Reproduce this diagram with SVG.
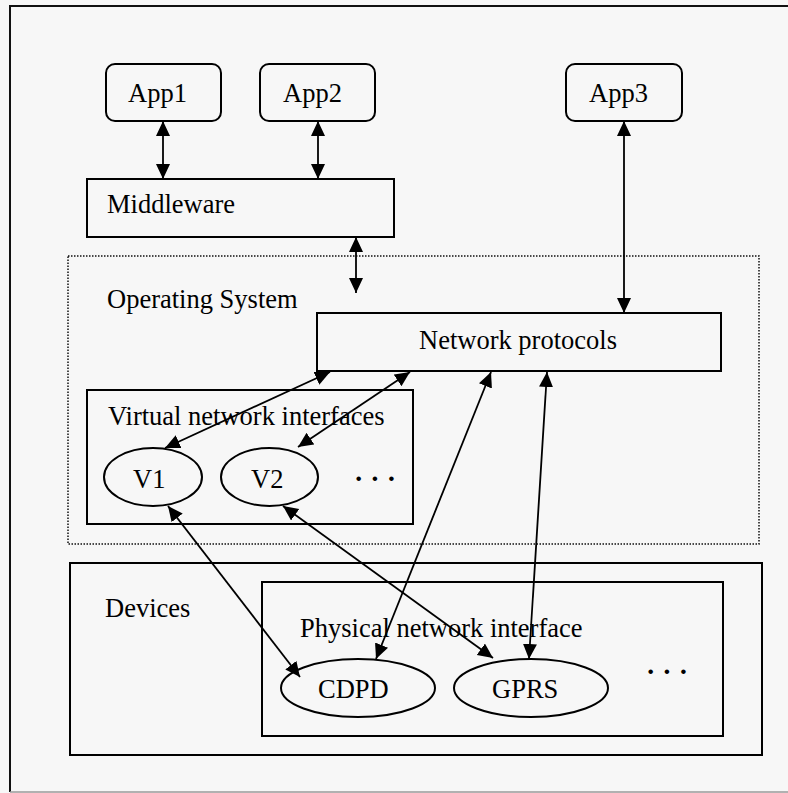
<svg xmlns="http://www.w3.org/2000/svg" width="788" height="793" viewBox="0 0 788 793">
  <style>
    .box { fill: none; stroke: #000; stroke-width: 2; }
    .dotted { fill: none; stroke: #111; stroke-width: 1.5; stroke-dasharray: 1.5 1.5; }
    .lbl { font-family: "Liberation Serif", "Times New Roman", serif; font-size: 26.5px; fill: #000; }
    .dots { font-family: "Liberation Serif", "Times New Roman", serif; font-size: 28px; font-weight: bold; fill: #000; }
    .link { stroke: #000; stroke-width: 1.8; fill: none; marker-start: url(#head); marker-end: url(#head); }
  </style>
  <defs>
    <marker id="head" markerUnits="userSpaceOnUse" markerWidth="16" markerHeight="15" refX="15" refY="7" orient="auto-start-reverse">
      <path d="M0,0 L15,7 L0,14 z" fill="#000"/>
    </marker>
  </defs>

  <!-- page background and frame -->
  <rect x="0" y="0" width="788" height="793" fill="#f7f7f7"/>
  <path d="M10,792 V6 H790" fill="none" stroke="#111" stroke-width="2"/>
  <line x1="10" y1="792" x2="788" y2="792" stroke="#9a9a9a" stroke-width="1.5"/>

  <!-- operating system area -->
  <g id="os">
    <rect class="dotted" x="68" y="256" width="691" height="288"/>
    <text class="lbl" x="107" y="308">Operating System</text>
  </g>

  <!-- devices area -->
  <g id="devices">
    <rect class="box" x="70" y="563" width="692" height="192"/>
    <text class="lbl" x="105" y="617">Devices</text>
  </g>

  <g id="app1">
    <rect class="box" x="106" y="64" width="115" height="57" rx="9"/>
    <text class="lbl" x="128" y="102">App1</text>
  </g>
  <g id="app2">
    <rect class="box" x="260" y="64" width="115" height="57" rx="9"/>
    <text class="lbl" x="283" y="102">App2</text>
  </g>
  <g id="app3">
    <rect class="box" x="566" y="64" width="116" height="57" rx="9"/>
    <text class="lbl" x="589" y="102">App3</text>
  </g>

  <g id="middleware">
    <rect class="box" x="87" y="179" width="307" height="58"/>
    <text class="lbl" x="107" y="213">Middleware</text>
  </g>

  <g id="network-protocols">
    <rect class="box" x="317" y="313" width="404" height="58"/>
    <text class="lbl" x="419" y="349">Network protocols</text>
  </g>

  <g id="virtual-interfaces">
    <rect class="box" x="87" y="390" width="326" height="134"/>
    <text class="lbl" x="108" y="425">Virtual network interfaces</text>
    <text class="dots" x="354" y="488">· · ·</text>
  </g>
  <g id="v1">
    <ellipse class="box" cx="153" cy="477" rx="49" ry="29"/>
    <text class="lbl" x="133" y="488">V1</text>
  </g>
  <g id="v2">
    <ellipse class="box" cx="269.5" cy="477" rx="48.5" ry="29"/>
    <text class="lbl" x="251" y="488">V2</text>
  </g>

  <g id="physical-interface">
    <rect class="box" x="262" y="582" width="461" height="154"/>
    <text class="lbl" x="300" y="637">Physical network interface</text>
    <text class="dots" x="646" y="681">· · ·</text>
  </g>
  <g id="cdpd">
    <ellipse class="box" cx="358" cy="688" rx="77" ry="29"/>
    <text class="lbl" x="318" y="698">CDPD</text>
  </g>
  <g id="gprs">
    <ellipse class="box" cx="531" cy="688" rx="77" ry="29"/>
    <text class="lbl" x="492" y="698">GPRS</text>
  </g>

  <!-- two-way links -->
  <g id="connectors">
    <line class="link" x1="163" y1="121" x2="163" y2="179"/>
    <line class="link" x1="318" y1="121" x2="318" y2="179"/>
    <line class="link" x1="356" y1="237" x2="356" y2="293"/>
    <line class="link" x1="624" y1="121" x2="624" y2="313"/>
    <line class="link" x1="330" y1="372" x2="165" y2="448"/>
    <line class="link" x1="410" y1="372" x2="298" y2="447"/>
    <line class="link" x1="491" y1="372" x2="376" y2="659"/>
    <line class="link" x1="547" y1="372" x2="529" y2="659"/>
    <line class="link" x1="168" y1="506" x2="300" y2="677"/>
    <line class="link" x1="283" y1="506" x2="493" y2="658"/>
  </g>
</svg>
